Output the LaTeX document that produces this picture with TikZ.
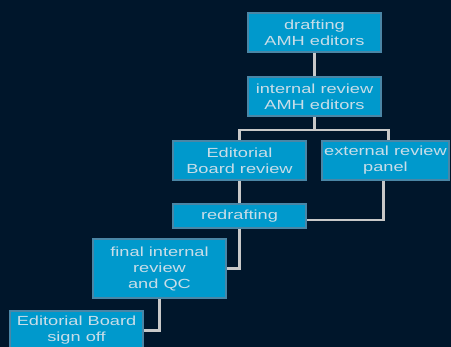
\documentclass[tikz,border=0pt]{standalone}
\usepackage{fontspec}
\setmainfont{Liberation Sans}[FakeStretch=1.38]

\definecolor{bgnavy}{HTML}{00162B}
\definecolor{boxblue}{HTML}{0099CC}
\definecolor{boxedge}{HTML}{4A86A6}
\definecolor{boxtext}{HTML}{C8DDE8}
\definecolor{linkgray}{HTML}{C8C8C8}

\begin{document}
\begin{tikzpicture}[
		x=1pt,
		y=-1pt,
		stage/.style={
			shape=rectangle,
			draw=boxedge,
			fill=boxblue,
			line width=2pt,
			text=boxtext,
			minimum width=133pt,
			minimum height=39pt,
			inner sep=0pt,
			align=center,
			font=\fontsize{13.2}{16}\selectfont,
		},
		link/.style={
			draw=linkgray,
			line width=2.3pt,
		},
	]
		\fill[bgnavy] (0,0) rectangle (451,347);
		\useasboundingbox (0,0) rectangle (451,347);

		\node[stage] (draft) at (314.5,32.5) {drafting\\AMH editors};
		\node[stage] (intrev) at (314.5,96.5) {internal review\\AMH editors};
		\node[stage] (edrev) at (239.5,160.5) {Editorial\\Board review};
		\node[stage, minimum width=127pt] (extrev) at (385.5,160.5) {external review\\panel};
		\node[stage, minimum height=24pt] (redraft) at (239.5,216) {redrafting};
		\node[stage, minimum height=59pt] (final) at (159.5,268.5) {final internal\\review\\and QC};
		\node[stage] (signoff) at (76.5,330.5) {Editorial Board\\sign off};

		% flow between stages
		\draw[link] (draft) -- (intrev);
		\draw[link] (intrev.south) -- ++(0,13) coordinate (split);
		\draw[link] (split) -| (edrev.north);
		\draw[link] (split) -| ([xshift=3pt]extrev.north);
		\draw[link] (edrev) -- (redraft);
		\draw[link] ([xshift=-2pt]extrev.south) |- ([yshift=-4pt]redraft.east);
		\draw[link] (redraft.south) |- (final.east);
		\draw[link] (final.south) |- (signoff.east);
	\end{tikzpicture}
\end{document}
